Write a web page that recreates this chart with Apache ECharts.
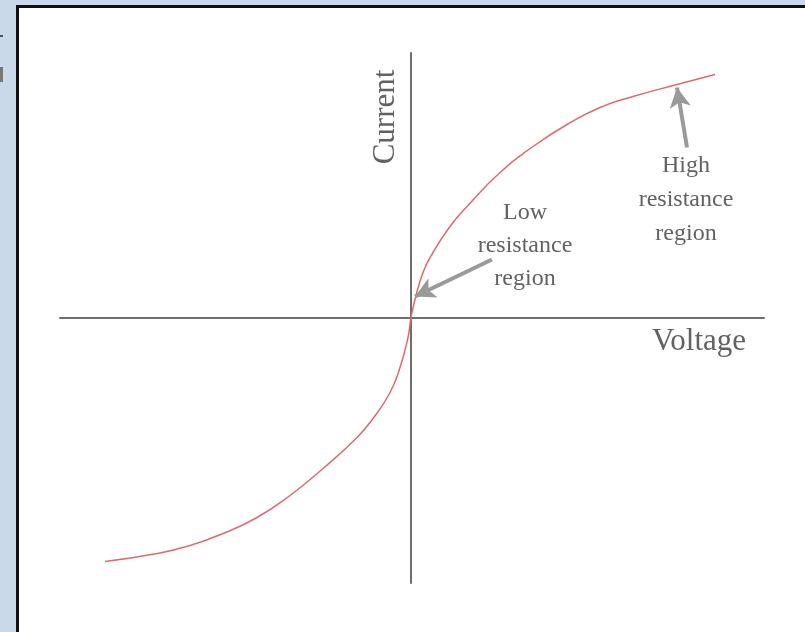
<!DOCTYPE html>
<html>
<head>
<meta charset="utf-8">
<script src="https://cdn.jsdelivr.net/npm/echarts@6/dist/echarts.min.js"></script>
<style>
  html, body { margin: 0; padding: 0; }
  #main { width: 805px; height: 632px; }
</style>
</head>
<body>
<div id="main"></div>
<script>
var myChart = echarts.init(document.getElementById('main'));

// I-V curve (origin at axis crossing)
var voltage = [-306, -254, -221, -188, -154, -121, -88, -54, -38, -21, -11, -3, 0, 4, 12, 22, 39, 56, 89, 122, 156, 189, 222, 266, 304];
var current = [-244, -236, -228, -216, -200, -178, -151, -120, -101, -75, -50, -20, 0, 18, 45, 65, 91, 111, 145, 171, 193, 210, 221, 233, 243];

var lowArrow = [[81, 58], [4, 21]];
var highArrow = [[276, 170], [266, 230]];

var curve = voltage.map(function (v, i) { return [v, current[i]]; });

var serif = 'Liberation Serif';
var txt = '#626262';

option = {
    backgroundColor: '#c9d9ea',
    animation: false,
    grid: { left: 60, right: 41, top: 53, bottom: 49 },
    xAxis: {
        type: 'value',
        min: -351,
        max: 353,
        axisLine: { onZero: true, lineStyle: { color: '#6e6e6e', width: 2 } },
        axisTick: { show: false },
        axisLabel: { show: false },
        splitLine: { show: false }
    },
    yAxis: {
        type: 'value',
        min: -265.5,
        max: 264.5,
        axisLine: { show: true, onZero: true, lineStyle: { color: '#6e6e6e', width: 2 } },
        axisTick: { show: false },
        axisLabel: { show: false },
        splitLine: { show: false }
    },
    graphic: [
        { type: 'rect', z: -100, silent: true, shape: { x: 16, y: 5, width: 789, height: 627 }, style: { fill: '#111' } },
        { type: 'rect', z: -99, silent: true, shape: { x: 19, y: 8, width: 786, height: 624 }, style: { fill: '#ffffff' } },
        { type: 'rect', z: -99, silent: true, shape: { x: 0, y: 35, width: 3, height: 2 }, style: { fill: '#555' } },
        { type: 'rect', z: -99, silent: true, shape: { x: 0, y: 67, width: 3, height: 15 }, style: { fill: '#777' } },
        { type: 'text', x: 386, y: 117, rotation: Math.PI / 2,
          style: { text: 'Current', fill: txt, font: '31px "' + serif + '"', align: 'center', verticalAlign: 'middle' } },
        { type: 'text', x: 699, y: 342,
          style: { text: 'Voltage', fill: txt, font: '31px "' + serif + '"', align: 'center', verticalAlign: 'middle' } },
        { type: 'text', x: 525, y: 246,
          style: { text: 'Low\nresistance\nregion', fill: txt, font: '24px "' + serif + '"', lineHeight: 33, align: 'center', verticalAlign: 'middle' } },
        { type: 'text', x: 686, y: 200,
          style: { text: 'High\nresistance\nregion', fill: txt, font: '24px "' + serif + '"', lineHeight: 34, align: 'center', verticalAlign: 'middle' } }
    ],
    series: [
        {
            type: 'line',
            data: curve,
            smooth: 0.5,
            showSymbol: false,
            lineStyle: { color: '#dc6a72', width: 1.5 },
            markLine: {
                silent: true,
                symbol: ['none', 'arrow'],
                symbolSize: [16, 20],
                label: { show: false },
                lineStyle: { color: '#9a9a9a', width: 4, type: 'solid' },
                data: [
                    [{ coord: lowArrow[0] }, { coord: lowArrow[1] }],
                    [{ coord: highArrow[0] }, { coord: highArrow[1] }]
                ]
            }
        }
    ]
};
myChart.setOption(option);
</script>
</body>
</html>
